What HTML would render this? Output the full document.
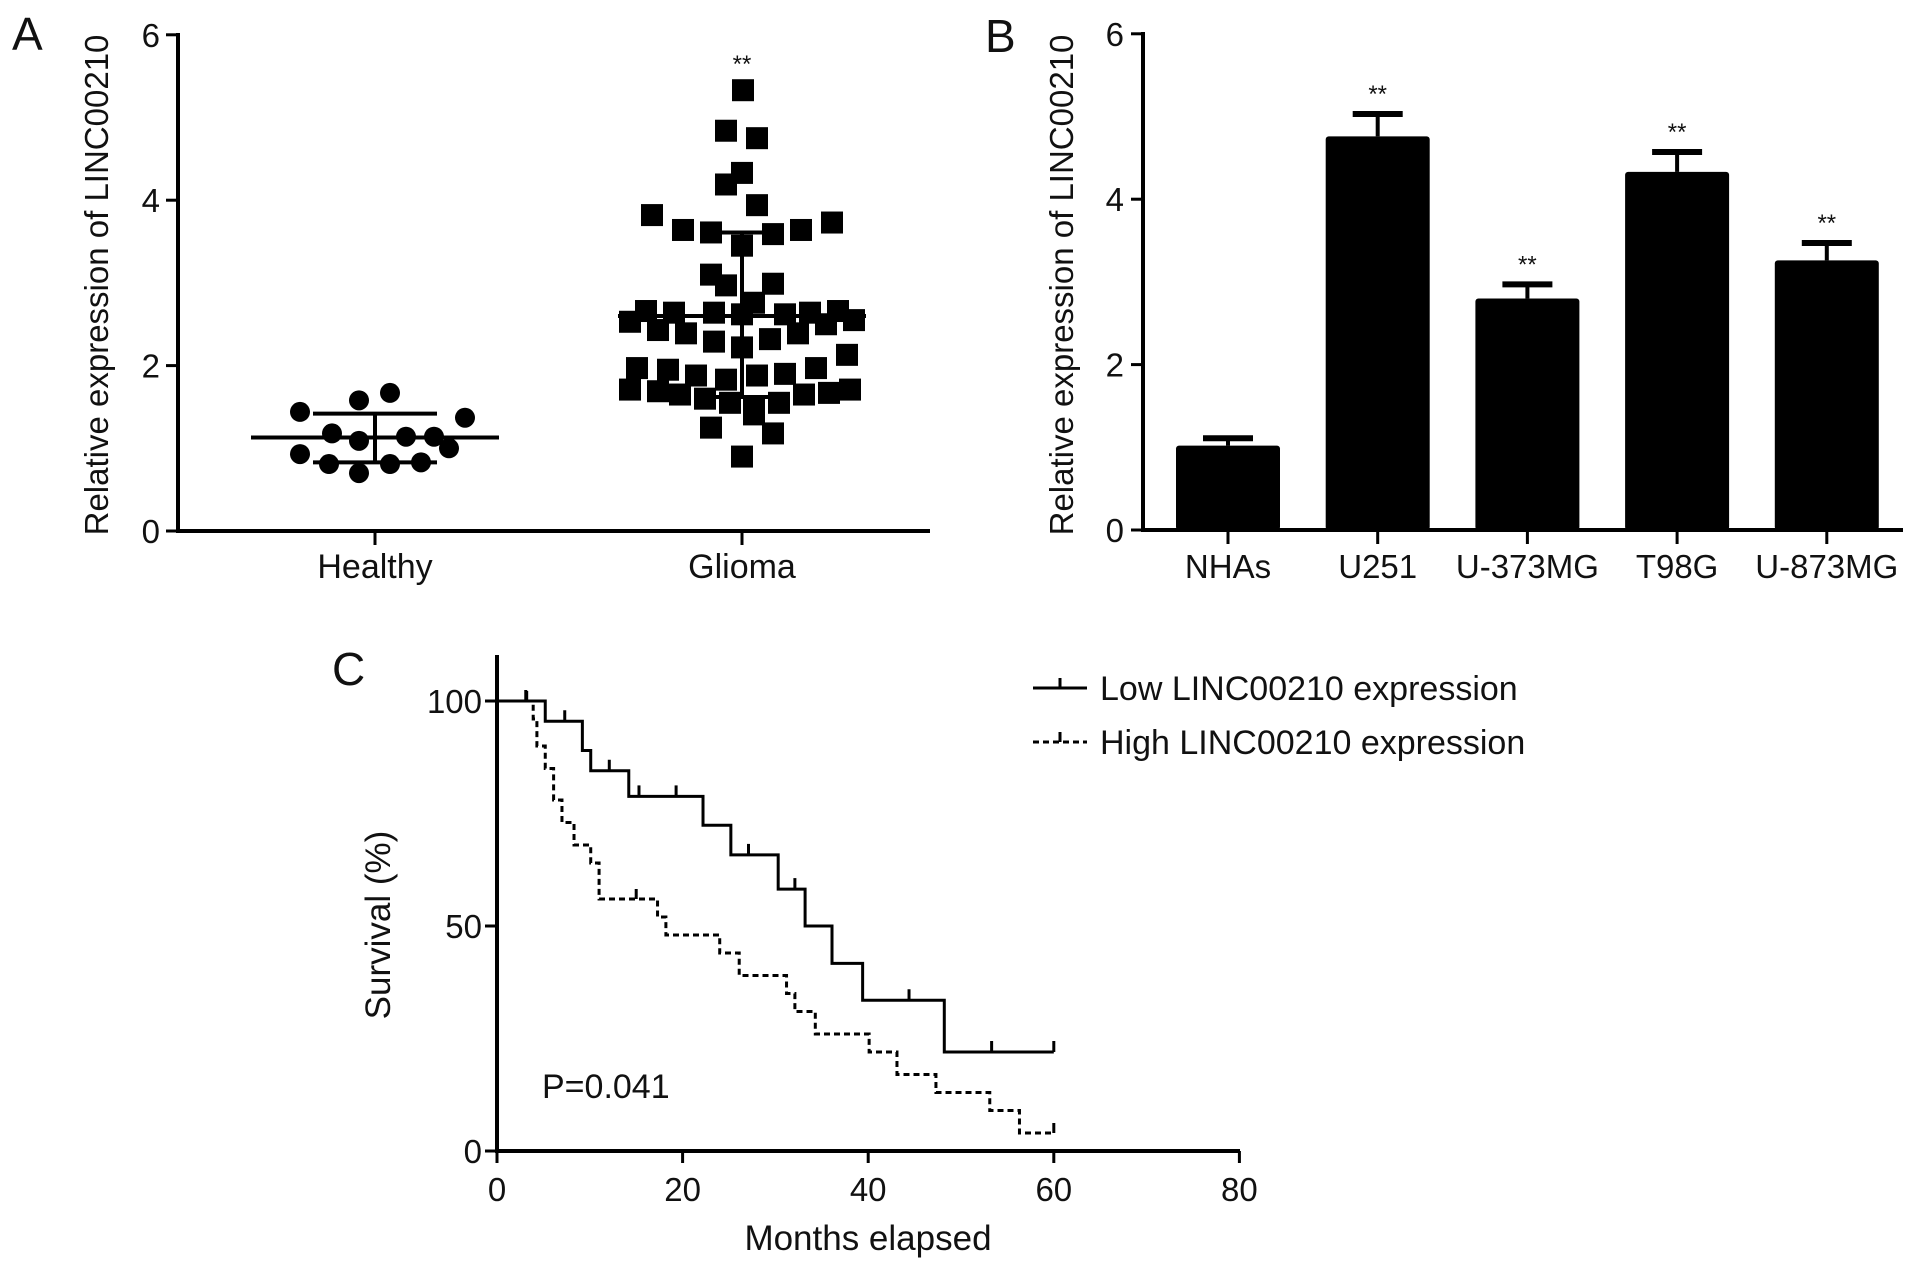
<!DOCTYPE html>
<html><head><meta charset="utf-8"><style>
html,body{margin:0;padding:0;background:#fff;width:1913px;height:1268px;overflow:hidden}
svg{display:block}
text{font-family:"Liberation Sans",sans-serif;fill:#111}
</style></head><body>
<svg id="fig" width="1913" height="1268" viewBox="0 0 1913 1268" xmlns="http://www.w3.org/2000/svg"></svg>
<script>
// Panel A data
const healthyVals=[1.44,1.58,1.67,1.37,1.18,1.09,1.14,1.14,0.93,0.81,0.70,0.81,0.83,1.0];
const healthyOff=[-75,-16,15,90,-43,-16,31,59,-75,-46,-16,15,46,74];
const healthyStats=[1.13,1.42,0.83];
const gliomaVals=[5.33,4.84,4.75,4.33,4.19,3.94,3.82,3.73,3.64,3.61,3.45,3.59,3.64,3.10,2.97,2.99,2.76,2.66,2.64,2.64,2.62,2.64,2.66,2.53,2.43,2.39,2.62,2.50,2.55,2.29,2.32,2.39,2.22,2.13,1.97,1.95,1.88,1.83,1.88,1.90,1.97,1.71,1.69,1.65,1.60,1.55,1.51,1.55,1.65,1.67,1.71,1.41,1.25,1.18,0.90];
const gliomaOff=[1,-16,15,0,-16,15,-90,90,-59,-31,0,31,59,-31,-16,31,12,-96,-68,-28,43,68,96,-112,-84,-56,0,84,112,-28,28,56,0,105,-105,-74,-46,-16,15,43,74,-112,-84,-62,-37,-12,12,37,62,87,108,12,-31,31,0];
const gliomaStats=[2.60,3.61,1.62];
const aTicks=[0,2,4,6];
// Panel B data
const cellLines=["NHAs","U251","U-373MG","T98G","U-873MG"];
const cellMeans=[1.02,4.76,2.80,4.33,3.26];
const cellErr=[0.09,0.27,0.17,0.24,0.21];
const cellSig=["","**","**","**","**"];
// Panel C data
const lowT=[0,5.2,9.2,10.1,14.2,22.2,25.2,30.3,33.2,36.1,39.4,48.2,60];
const lowS=[100,95.5,89,84.5,78.8,72.4,65.8,58.2,50,41.7,33.5,22,22];
const lowCens=[3.1,7.3,12.1,15.3,19.3,27.1,32.1,44.4,53.3,60];
const highT=[0,3.9,4.3,5.2,6.1,7,8.3,10.1,11,17.3,18.2,24,26.1,31.2,32.1,34.3,40.1,43.1,47.3,53.1,56.3,60];
const highS=[100,96,90,85,78,73,68,64,56,52,48,44,39,35,31,26,22,17,13,9,4,4];
const highCens=[3.2,15,60];
const cXTicks=[0,20,40,60,80];
const cYTicks=[0,50,100];

const NS="http://www.w3.org/2000/svg";
const svg=document.getElementById('fig');
function el(tag,attrs,parent,txt){const e=document.createElementNS(NS,tag);for(const k in attrs)e.setAttribute(k,attrs[k]);if(txt!==undefined)e.textContent=txt;(parent||svg).appendChild(e);return e;}

// ---------- Panel A ----------
const gA=el('g',{});
const ayA=v=>531-v*82.7;
const hx=375,gx=742;
let t=el('text',{x:12,y:50,'font-size':46},gA,'A');
let ax=el('line',{x1:178,y1:33,x2:178,y2:533,stroke:'#000','stroke-width':4},gA);
ax=el('line',{x1:176,y1:531,x2:930,y2:531,stroke:'#000','stroke-width':4},gA);
aTicks.forEach(v=>{el('line',{x1:166,y1:ayA(v),x2:178,y2:ayA(v),stroke:'#000','stroke-width':3},gA);
 const tl=el('text',{x:160,y:ayA(v)+12,'font-size':33,'text-anchor':'end'},gA,v);});
[[hx,'Healthy'],[gx,'Glioma']].forEach(([x,l])=>{el('line',{x1:x,y1:531,x2:x,y2:545,stroke:'#000','stroke-width':3},gA);
 const tl=el('text',{x:x,y:578,'font-size':34,'text-anchor':'middle'},gA,l);});
t=el('text',{transform:'translate(108,285) rotate(-90)','font-size':33,'text-anchor':'middle'},gA,'Relative expression of LINC00210');
healthyVals.forEach((v,i)=>{const c=el('circle',{cx:hx+healthyOff[i],cy:ayA(v),r:10,fill:'#000'},gA);});
gliomaVals.forEach((v,i)=>{const r=el('rect',{x:gx+gliomaOff[i]-11,y:ayA(v)-11,width:22,height:22,fill:'#000'},gA);});
function stats(x,s,hw,cw,name){const g=el('g',{},gA);
 el('line',{x1:x-hw,y1:ayA(s[0]),x2:x+hw,y2:ayA(s[0]),stroke:'#000','stroke-width':4},g);
 el('line',{x1:x,y1:ayA(s[1]),x2:x,y2:ayA(s[2]),stroke:'#000','stroke-width':4},g);
 el('line',{x1:x-cw,y1:ayA(s[1]),x2:x+cw,y2:ayA(s[1]),stroke:'#000','stroke-width':4},g);
 el('line',{x1:x-cw,y1:ayA(s[2]),x2:x+cw,y2:ayA(s[2]),stroke:'#000','stroke-width':4},g);}
stats(hx,healthyStats,124,62,'healthy-mean-sd');
stats(gx,gliomaStats,124,31,'glioma-mean-sd');
t=el('text',{x:gx,y:72,'font-size':24,'text-anchor':'middle'},gA,'**');

// ---------- Panel B ----------
const gB=el('g',{});
const ayB=v=>530-v*82.7;
const bx=i=>1228+i*149.7;
t=el('text',{x:985,y:52,'font-size':46},gB,'B');
t=el('text',{transform:'translate(1073,285) rotate(-90)','font-size':33,'text-anchor':'middle'},gB,'Relative expression of LINC00210');
cellMeans.forEach((v,i)=>{const x=bx(i);
 const e=el('line',{x1:x,y1:ayB(v),x2:x,y2:ayB(v+cellErr[i]),stroke:'#000','stroke-width':4},gB);
 const c=el('line',{x1:x-25,y1:ayB(v+cellErr[i]),x2:x+25,y2:ayB(v+cellErr[i]),stroke:'#000','stroke-width':6},gB);
 const r=el('rect',{x:x-52,y:ayB(v),width:104,height:ayB(0)-ayB(v),fill:'#000',rx:3},gB);
 if(cellSig[i]){const s=el('text',{x:x,y:ayB(v+cellErr[i])-12,'font-size':24,'text-anchor':'middle'},gB,cellSig[i]);}
 el('line',{x1:x,y1:530,x2:x,y2:544,stroke:'#000','stroke-width':3},gB);
 const tl=el('text',{x:x,y:578,'font-size':33,'text-anchor':'middle'},gB,cellLines[i]);});
ax=el('line',{x1:1143,y1:32,x2:1143,y2:532,stroke:'#000','stroke-width':4},gB);
ax=el('line',{x1:1141,y1:530,x2:1903,y2:530,stroke:'#000','stroke-width':4},gB);
aTicks.forEach(v=>{el('line',{x1:1131,y1:ayB(v),x2:1143,y2:ayB(v),stroke:'#000','stroke-width':3},gB);
 const tl=el('text',{x:1124,y:ayB(v)+12,'font-size':33,'text-anchor':'end'},gB,v);});

// ---------- Panel C ----------
const gC=el('g',{});
const cx=m=>497+m*9.28, cy=s=>1151-s*4.50;
t=el('text',{x:332,y:685,'font-size':46},gC,'C');
ax=el('line',{x1:497,y1:655,x2:497,y2:1153,stroke:'#000','stroke-width':4},gC);
ax=el('line',{x1:495,y1:1151,x2:1240,y2:1151,stroke:'#000','stroke-width':4},gC);
cYTicks.forEach(v=>{el('line',{x1:485,y1:cy(v),x2:497,y2:cy(v),stroke:'#000','stroke-width':3},gC);
 const tl=el('text',{x:482,y:cy(v)+12,'font-size':33,'text-anchor':'end'},gC,v);});
cXTicks.forEach(v=>{el('line',{x1:cx(v),y1:1151,x2:cx(v),y2:1163,stroke:'#000','stroke-width':3},gC);
 const tl=el('text',{x:cx(v),y:1201,'font-size':33,'text-anchor':'middle'},gC,v);});
t=el('text',{x:868,y:1250,'font-size':35,'text-anchor':'middle'},gC,'Months elapsed');
t=el('text',{transform:'translate(390,925) rotate(-90)','font-size':35,'text-anchor':'middle'},gC,'Survival (%)');
t=el('text',{x:542,y:1098,'font-size':34},gC,'P=0.041');
function stepPath(T,S){let d='M'+cx(T[0])+','+cy(S[0]);for(let i=1;i<T.length;i++){d+=' H'+cx(T[i])+' V'+cy(S[i]);}return d;}
function survAt(T,S,m){let s=S[0];for(let i=0;i<T.length;i++){if(T[i]<=m)s=S[i];}return s;}
let p=el('path',{d:stepPath(lowT,lowS),fill:'none',stroke:'#000','stroke-width':3},gC);
lowCens.forEach(m=>{const y=cy(survAt(lowT,lowS,m));const c=el('line',{x1:cx(m),y1:y,x2:cx(m),y2:y-11,stroke:'#000','stroke-width':3},gC);});
p=el('path',{d:stepPath(highT,highS),fill:'none',stroke:'#000','stroke-width':3,'stroke-dasharray':'6 4'},gC);
highCens.forEach(m=>{const y=cy(survAt(highT,highS,m));const c=el('line',{x1:cx(m),y1:y,x2:cx(m),y2:y-10,stroke:'#000','stroke-width':3},gC);});
// legend
const lg=el('g',{},gC);
const l1=el('g',{},lg);
el('line',{x1:1033,y1:688,x2:1087,y2:688,stroke:'#000','stroke-width':3},l1);
el('line',{x1:1060,y1:688,x2:1060,y2:678,stroke:'#000','stroke-width':3},l1);
el('text',{x:1100,y:700,'font-size':34},l1,'Low LINC00210 expression');
const l2=el('g',{},lg);
el('line',{x1:1033,y1:742,x2:1087,y2:742,stroke:'#000','stroke-width':3,'stroke-dasharray':'6 4'},l2);
el('line',{x1:1060,y1:742,x2:1060,y2:732,stroke:'#000','stroke-width':3},l2);
el('text',{x:1100,y:754,'font-size':34},l2,'High LINC00210 expression');
</script>
</body></html>
